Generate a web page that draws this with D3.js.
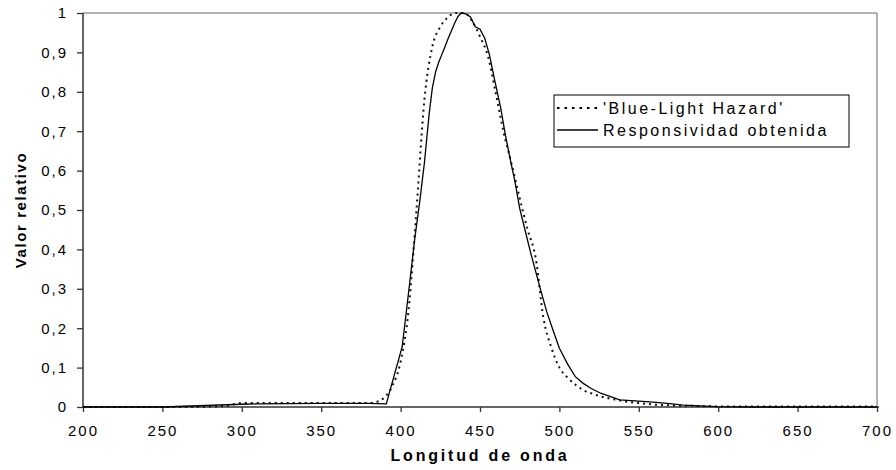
<!DOCTYPE html>
<html>
<head>
<meta charset="utf-8">
<script src="https://cdn.jsdelivr.net/npm/d3@7"></script>
<style>
  body { margin: 0; background: #fff; }
  svg text { font-family: "Liberation Sans", Arial, sans-serif; fill: #000; }
</style>
</head>
<body>
<svg id="chart" width="896" height="470"></svg>
<script>
// Wavelength axis ticks (nm) and relative value ticks
const xTicks = [200, 250, 300, 350, 400, 450, 500, 550, 600, 650, 700];
const yTicks = [0, 0.1, 0.2, 0.3, 0.4, 0.5, 0.6, 0.7, 0.8, 0.9, 1];

// Blue-light hazard weighting function B(λ)
const hazardNm = [200, 250, 280, 290,
  300, 310, 320, 330, 340, 350, 360, 370, 380,
  385, 390, 395,
  400, 405, 410, 415, 420, 425, 430, 435, 440, 445,
  450, 455, 460, 465, 470, 475, 480, 485, 490, 495,
  500, 505, 510, 515, 520, 525, 530, 535, 540, 545,
  550, 555, 560, 565, 570, 575, 580, 585, 590, 595,
  600, 650, 700];
const hazardVal = [0, 0, 0.001, 0.003,
  0.01, 0.01, 0.01, 0.01, 0.01, 0.01, 0.01, 0.01, 0.01,
  0.013, 0.025, 0.055,
  0.115, 0.245, 0.5, 0.78, 0.915, 0.965, 0.99, 1.0, 1.0, 0.98,
  0.94, 0.89, 0.795, 0.695, 0.615, 0.53, 0.45, 0.38, 0.225, 0.15,
  0.1, 0.075, 0.057, 0.043, 0.035, 0.028, 0.023, 0.019, 0.015, 0.012,
  0.01, 0.008, 0.006, 0.005, 0.004, 0.003, 0.003, 0.003, 0.002, 0.002,
  0.001, 0.001, 0.001];

// Measured responsivity of the sensor (normalised)
const respNm = [200, 250, 300, 310, 350, 380, 391, 401, 405, 409, 412, 415,
  418, 420, 422, 424, 426, 428, 430, 432, 434, 436, 438, 441, 444, 447,
  450, 453, 456, 459, 463, 466, 469, 472, 475, 478, 482, 488, 492, 496,
  500, 505, 510, 515, 520, 526, 538, 557, 568, 578, 599, 620, 700];
const respVal = [0, 0, 0.007, 0.008, 0.009, 0.009, 0.008, 0.153, 0.29, 0.43, 0.52, 0.62,
  0.745, 0.81, 0.85, 0.875, 0.895, 0.915, 0.936, 0.955, 0.974, 0.99, 1.0, 0.998, 0.99, 0.965,
  0.959, 0.936, 0.893, 0.834, 0.76, 0.69, 0.63, 0.572, 0.504, 0.455, 0.39, 0.30, 0.242, 0.195,
  0.149, 0.11, 0.077, 0.06, 0.047, 0.035, 0.018, 0.013, 0.009, 0.005, 0.001, 0, 0];

const legendLabels = ["'Blue-Light Hazard'", "Responsividad obtenida"];

const svg = d3.select("#chart");
const plotLeft = 83, plotRight = 877, plotTop = 13, plotBottom = 407;

const x = d3.scaleLinear().domain([200, 700]).range([plotLeft, plotRight]);
const y = d3.scaleLinear().domain([0, 1]).range([plotBottom, plotTop]);

const fmt = v => String(v).replace(".", ",");

// plot frame: top and right borders in grey
svg.append("line").attr("x1", plotLeft).attr("x2", plotRight).attr("y1", plotTop).attr("y2", plotTop)
  .attr("stroke", "#999").attr("stroke-width", 1.5);
svg.append("line").attr("x1", plotRight).attr("x2", plotRight).attr("y1", plotTop).attr("y2", plotBottom)
  .attr("stroke", "#999").attr("stroke-width", 1.5);

// axes
const yAxis = svg.append("g").attr("transform", `translate(${plotLeft},0)`)
  .call(d3.axisLeft(y).tickValues(yTicks).tickFormat(fmt).tickSize(6).tickPadding(9));
const xAxis = svg.append("g").attr("transform", `translate(0,${plotBottom})`)
  .call(d3.axisBottom(x).tickValues(xTicks).tickFormat(d3.format("d")).tickSize(5).tickPadding(13));

[xAxis, yAxis].forEach(g => {
  g.select(".domain").attr("stroke", "#333").attr("stroke-width", 1.5);
  g.selectAll(".tick line").attr("stroke", "#333").attr("stroke-width", 1.3);
  g.selectAll("text").attr("font-size", 15).attr("fill", "#000")
    .style("letter-spacing", "2px");
});
xAxis.select(".domain").attr("d", `M${plotLeft},0H${plotRight + 2}`);
yAxis.select(".domain").attr("d", `M0,${plotBottom}V${plotTop}`);

// curves
const hazard = hazardNm.map((n, i) => [n, hazardVal[i]]);
const resp = respNm.map((n, i) => [n, respVal[i]]);

svg.append("path").datum(hazard)
  .attr("fill", "none").attr("stroke", "#111").attr("stroke-width", 2)
  .attr("stroke-dasharray", "2,4")
  .attr("d", d3.line().x(d => x(d[0])).y(d => y(d[1])).curve(d3.curveMonotoneX));

svg.append("path").datum(resp)
  .attr("fill", "none").attr("stroke", "#000").attr("stroke-width", 1.3)
  .attr("d", d3.line().x(d => x(d[0])).y(d => y(d[1])));

// axis titles
svg.append("text").attr("x", (plotLeft + plotRight) / 2).attr("y", 461)
  .attr("text-anchor", "middle").attr("font-size", 16).attr("font-weight", "bold")
  .style("letter-spacing", "2.8px").text("Longitud de onda");
svg.append("text").attr("transform", `translate(26,${(plotTop + plotBottom) / 2}) rotate(-90)`)
  .attr("text-anchor", "middle").attr("font-size", 15).attr("font-weight", "bold")
  .style("letter-spacing", "1.6px").text("Valor relativo");

// legend
const lg = svg.append("g");
lg.append("rect").attr("x", 554).attr("y", 95).attr("width", 295).attr("height", 52)
  .attr("fill", "#fff").attr("stroke", "#000").attr("stroke-width", 1);
const styles = [
  { dash: "2.5,5", width: 2 },
  { dash: null, width: 1.3 }
];
legendLabels.forEach((label, i) => {
  const ly = 108 + i * 22;
  lg.append("line").attr("x1", 557).attr("x2", 598).attr("y1", ly).attr("y2", ly)
    .attr("stroke", "#000").attr("stroke-width", styles[i].width)
    .attr("stroke-dasharray", styles[i].dash);
  lg.append("text").attr("x", 603).attr("y", ly + 5.5).attr("font-size", 16)
    .style("letter-spacing", "2.5px").text(label);
});
</script>
</body>
</html>
